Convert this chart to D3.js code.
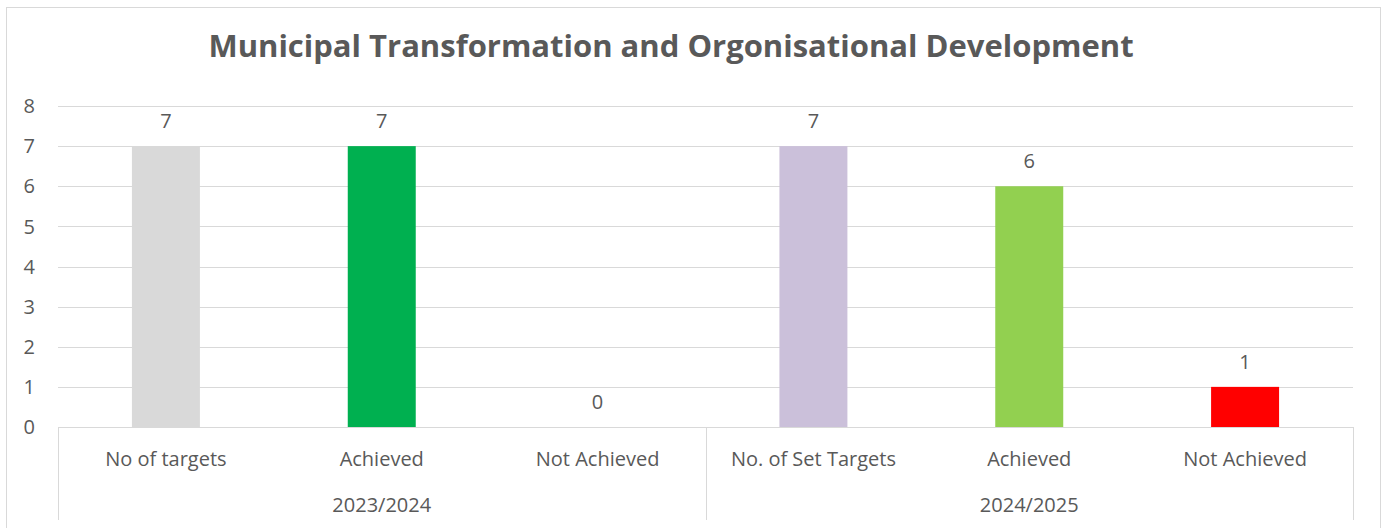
<!DOCTYPE html>
<html>
<head>
<meta charset="utf-8">
<script src="https://cdn.jsdelivr.net/npm/d3@7"></script>
<style>
  body { margin: 0; background: #fff; }
  text { font-family: "Open Sans", "Liberation Sans", sans-serif; fill: #595959; }
</style>
</head>
<body>
<div class="chart"></div>
<script>
// chart data
var years = ["2023/2024", "2024/2025"];
var categories = ["No of targets", "Achieved", "Not Achieved", "No. of Set Targets", "Achieved", "Not Achieved"];
var yearOfCategory = [0, 0, 0, 1, 1, 1];
var values = [7, 7, 0, 7, 6, 1];
var barColors = ["#d9d9d9", "#00b050", "#ff0000", "#cbc0da", "#92d050", "#ff0000"];
var yTicks = [0, 1, 2, 3, 4, 5, 6, 7, 8];

document.addEventListener("DOMContentLoaded", function() {
    var W = 1389, H = 528;
    var margin = { top: 106, right: 36, bottom: 101, left: 58 },
        width = W - margin.left - margin.right,
        height = H - margin.top - margin.bottom;

    var root = d3.select(".chart")
        .append("svg")
        .attr("width", W)
        .attr("height", H);

    // outer chart border
    root.append("rect")
        .attr("x", 6.5).attr("y", 7.5)
        .attr("width", 1374).attr("height", 560)
        .attr("fill", "none")
        .attr("stroke", "#d9d9d9");

    // title
    root.append("text")
        .attr("x", 671)
        .attr("y", 57)
        .attr("text-anchor", "middle")
        .style("font-size", "31px")
        .style("font-weight", "bold")
        .text("Municipal Transformation and Orgonisational Development");

    var svg = root.append("g")
        .attr("transform", "translate(" + margin.left + "," + margin.top + ")");

    var x = d3.scaleBand()
        .domain(d3.range(categories.length))
        .range([0, width])
        .paddingInner(0.685)
        .paddingOuter(0.3425);

    var y = d3.scaleLinear().domain([0, 8]).range([height, 0]);

    // gridlines
    svg.selectAll("grid")
        .data(yTicks.slice(1))
        .enter()
        .append("line")
        .attr("x1", 0).attr("x2", width)
        .attr("y1", function(d) { return Math.round(y(d)) + 0.5; })
        .attr("y2", function(d) { return Math.round(y(d)) + 0.5; })
        .attr("stroke", "#d9d9d9")
        .attr("stroke-width", 1);

    // y labels
    svg.selectAll("ylab")
        .data(yTicks)
        .enter()
        .append("text")
        .attr("x", -23)
        .attr("y", function(d) { return y(d); })
        .attr("dy", "0.36em")
        .attr("text-anchor", "end")
        .style("font-size", "20px")
        .text(function(d) { return d; });

    // bars
    svg.selectAll("bars")
        .data(values)
        .enter()
        .append("rect")
        .attr("x", function(d, i) { return x(i); })
        .attr("y", function(d) { return y(d); })
        .attr("width", x.bandwidth())
        .attr("height", function(d) { return height - y(d); })
        .attr("fill", function(d, i) { return barColors[i]; });

    // value labels
    svg.selectAll("vlab")
        .data(values)
        .enter()
        .append("text")
        .attr("x", function(d, i) { return x(i) + x.bandwidth() / 2; })
        .attr("y", function(d) { return y(d) - 18; })
        .attr("text-anchor", "middle")
        .style("font-size", "20px")
        .text(function(d) { return d; });

    // category axis
    var step = x.step();
    svg.append("line")
        .attr("x1", 0).attr("x2", width)
        .attr("y1", height + 0.5).attr("y2", height + 0.5)
        .attr("stroke", "#d9d9d9");

    var seps = [0, 3, 6];
    svg.selectAll("sep")
        .data(seps)
        .enter()
        .append("line")
        .attr("x1", function(d) { return Math.round(d * step) + 0.5; })
        .attr("x2", function(d) { return Math.round(d * step) + 0.5; })
        .attr("y1", height)
        .attr("y2", height + 93)
        .attr("stroke", "#d9d9d9");

    svg.selectAll("clab")
        .data(categories)
        .enter()
        .append("text")
        .attr("x", function(d, i) { return x(i) + x.bandwidth() / 2; })
        .attr("y", height + 39)
        .attr("text-anchor", "middle")
        .style("font-size", "20px")
        .text(function(d) { return d; });

    svg.selectAll("yrlab")
        .data(years)
        .enter()
        .append("text")
        .attr("x", function(d, i) {
            var idx = yearOfCategory.indexOf(i);
            return x(idx + 1) + x.bandwidth() / 2;
        })
        .attr("y", height + 85)
        .attr("text-anchor", "middle")
        .style("font-size", "20px")
        .text(function(d) { return d; });
});
</script>
</body>
</html>
